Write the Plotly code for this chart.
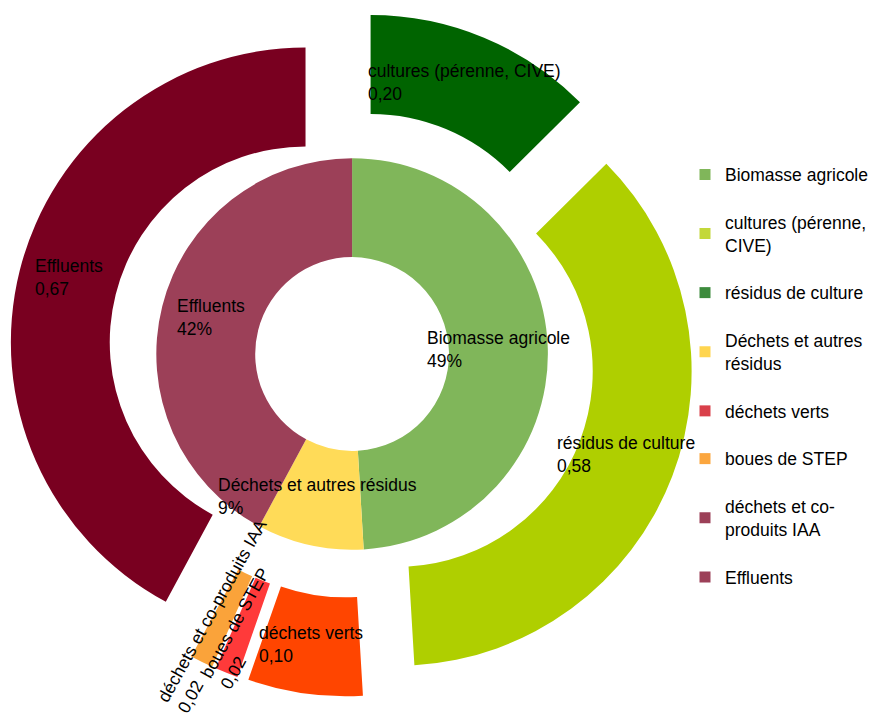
import plotly.graph_objects as go

# ---------------- data ----------------
inner_labels = ["Biomasse agricole", "Déchets et autres résidus", "Effluents"]
inner_values = [0.78, 0.14, 0.67]

outer_labels = ["cultures (pérenne, CIVE)", "résidus de culture", "déchets verts",
                "boues de STEP", "déchets et co-produits IAA", "Effluents"]
outer_values = [0.20, 0.58, 0.10, 0.02, 0.02, 0.67]

legend_labels = ["Biomasse agricole", "cultures (pérenne,<br>CIVE)", "résidus de culture",
                 "Déchets et autres<br>résidus", "déchets verts", "boues de STEP",
                 "déchets et co-<br>produits IAA", "Effluents"]

# ---------------- styles ----------------
inner_colors = ["#80b65a", "#ffdb58", "#9c4058"]
outer_colors = ["#006400", "#afcf00", "#ff4500", "#ff3a3a", "#faa33a", "#790020"]
legend_colors = ["#80b65a", "#c3d83a", "#3d8b3d", "#ffd54f", "#d9404a", "#fba63f",
                 "#9c4058", "#9c4058"]

FONT = "Liberation Sans, Arial, sans-serif"
FS = 17.5

# label placement (paper pixels): x, y, anchor, angle
inner_label_pos = [(425, 350, "left", 0), (216, 496, "left", 0), (175, 317, "left", 0)]
outer_label_pos = [(366, 82, "left", 0), (556, 455, "left", 0), (257, 644, "left", 0),
                   (245, 628, "center", -61), (222, 616, "center", -61), (33, 278, "left", 0)]

W, H = 873, 713
CX, CY = 352.5, 354      # pie centre (px)
R_IN, HOLE_IN = 196, 97
R_OUT = 295
PULL = 0.163

def dom(cx, cy, half):
    return dict(x=[(cx - half) / W, (cx + half) / W],
                y=[(H - cy - half) / H, (H - cy + half) / H])

fig = go.Figure()

fig.add_trace(go.Pie(
    labels=inner_labels, values=inner_values, sort=False, direction="clockwise",
    rotation=0, hole=HOLE_IN / R_IN, domain=dom(CX, CY, R_IN),
    marker=dict(colors=inner_colors, line=dict(width=0)),
    textinfo="none", showlegend=False, hoverinfo="label+percent"))

fig.add_trace(go.Pie(
    labels=outer_labels, values=outer_values, sort=False, direction="clockwise",
    rotation=0, hole=R_IN / R_OUT, pull=[PULL] * len(outer_values),
    domain=dom(CX, CY, R_OUT * (1 + PULL)),
    marker=dict(colors=outer_colors, line=dict(width=0)),
    textinfo="none", showlegend=False, hoverinfo="label+value"))

for i, (lab, col) in enumerate(zip(legend_labels, legend_colors)):
    fig.add_trace(go.Scatter(x=[None], y=[None], mode="markers", name=lab,
                             legendgroup=f"g{i}",
                             marker=dict(symbol="square", size=11, color=col)))

total = sum(inner_values)
annotations = []
for lab, v, (x, y, anc, ang) in zip(inner_labels, inner_values, inner_label_pos):
    annotations.append(dict(
        text=f"{lab}<br>{round(v / total * 100)}%", x=x / W, y=1 - y / H,
        xref="paper", yref="paper", xanchor=anc, yanchor="middle", align="left",
        showarrow=False, textangle=ang, font=dict(family=FONT, size=FS, color="#000")))
for lab, v, (x, y, anc, ang) in zip(outer_labels, outer_values, outer_label_pos):
    annotations.append(dict(
        text=f"{lab}<br>{v:.2f}".replace(".", ","), x=x / W, y=1 - y / H,
        xref="paper", yref="paper", xanchor=anc, yanchor="middle", align="left",
        showarrow=False, textangle=ang, font=dict(family=FONT, size=FS, color="#000")))

fig.update_layout(
    width=W, height=H, margin=dict(l=0, r=0, t=0, b=0),
    paper_bgcolor="white", plot_bgcolor="white",
    xaxis=dict(visible=False), yaxis=dict(visible=False),
    font=dict(family=FONT, size=FS, color="#000"),
    showlegend=True,
    legend=dict(x=686 / W, xanchor="left", y=1 - 376 / H, yanchor="middle",
                traceorder="grouped", tracegroupgap=22, itemwidth=30,
                font=dict(family=FONT, size=FS, color="#000"),
                bgcolor="rgba(0,0,0,0)"),
    annotations=annotations,
)

fig.write_html("out.html", config={"displayModeBar": False},
               post_script="document.body.style.margin='0';document.body.style.overflow='hidden';")
